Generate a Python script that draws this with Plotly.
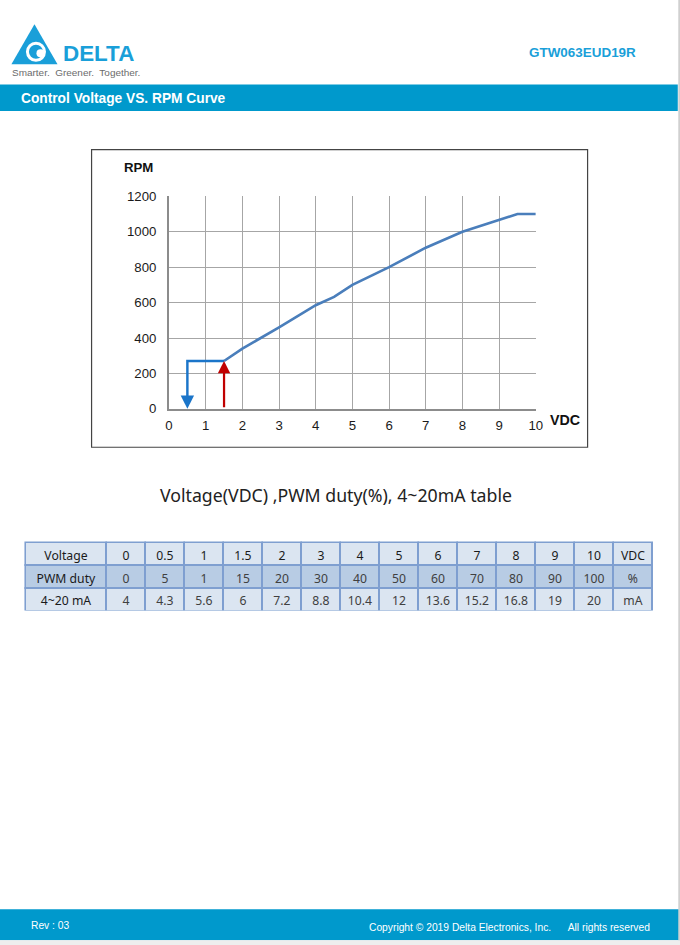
import plotly.graph_objects as go

# ---- data ----
voltage = [1.5, 2, 3, 4, 4.5, 5, 6, 7, 8, 9, 9.5, 10]
rpm = [270, 340, 460, 585, 632, 700, 800, 910, 1000, 1068, 1100, 1100]
start_v = 1.5
stop_v = 0.5
start_rpm = 270

row_labels = ["Voltage", "PWM duty", "4~20 mA"]
volt_row = ["0", "0.5", "1", "1.5", "2", "3", "4", "5", "6", "7", "8", "9", "10", "VDC"]
pwm_row = ["0", "5", "1", "15", "20", "30", "40", "50", "60", "70", "80", "90", "100", "%"]
ma_row = ["4", "4.3", "5.6", "6", "7.2", "8.8", "10.4", "12", "13.6", "15.2", "16.8", "19", "20", "mA"]

# page placement compensation (observed render offset and scale)
OX, OY, S = 4.6, 7.8, 0.982
W, H = 688, 955
BLUE = "#0099cc"


def px(x):
    return (x - OX) / S / W


def py(y):
    return 1 - (y - OY) / S / H


def fs(v):
    return v / S


fig = go.Figure()

# curve
fig.add_trace(go.Scatter(x=voltage, y=rpm, mode="lines",
                         line=dict(color="#4a7ebb", width=fs(2.6)),
                         hoverinfo="skip", showlegend=False))
# blue stop step
fig.add_trace(go.Scatter(x=[start_v, stop_v, stop_v], y=[start_rpm, start_rpm, 20], mode="lines",
                         line=dict(color="#1b75c9", width=fs(2.4)),
                         hoverinfo="skip", showlegend=False))

annotations = []
# arrows
annotations.append(dict(x=stop_v, y=0, ax=stop_v, ay=60, xref="x", yref="y", axref="x", ayref="y",
                        showarrow=True, arrowhead=2, arrowsize=1.1, arrowwidth=fs(2.4),
                        arrowcolor="#1b75c9", text=""))
annotations.append(dict(x=start_v, y=start_rpm, ax=start_v, ay=0, xref="x", yref="y", axref="x", ayref="y",
                        showarrow=True, arrowhead=2, arrowsize=1.1, arrowwidth=fs(2.2),
                        arrowcolor="#c00000", text=""))

# table
header_vals = [row_labels[0]] + volt_row
cell_vals = [[row_labels[1], row_labels[2]]] + [[p, m] for p, m in zip(pwm_row, ma_row)]
ncol = len(header_vals)
fig.add_trace(go.Table(
    domain=dict(x=[px(26), px(652)], y=[py(610), py(542)]),
    columnwidth=[81] + [39] * (ncol - 1),
    header=dict(values=header_vals, height=fs(22.5),
                fill=dict(color="#dbe5f1"),
                line=dict(color="#7f9fd0", width=2),
                align="center",
                font=dict(family="Noto Sans", size=fs(12), color="#1a1a1a")),
    cells=dict(values=cell_vals, height=fs(22.5),
               fill=dict(color=[["#b8cce4", "#dbe5f1"]] * ncol),
               line=dict(color="#7f9fd0", width=2),
               align="center",
               font=dict(family="Noto Sans", size=fs(12),
                         color=[["#1a1a1a", "#1a1a1a"]] + [["#404040", "#404040"]] * (ncol - 1))),
))

shapes = []
# header title bar
shapes.append(dict(type="rect", xref="paper", yref="paper", x0=px(-5), x1=px(677), y0=py(111.5), y1=py(85),
                   fillcolor=BLUE, line=dict(width=0), layer="below"))
# footer bar
shapes.append(dict(type="rect", xref="paper", yref="paper", x0=px(-5), x1=px(679), y0=py(939), y1=py(908),
                   fillcolor=BLUE, line=dict(width=0), layer="below"))
shapes.append(dict(type="rect", xref="paper", yref="paper", x0=px(-5), x1=px(690), y0=py(950), y1=py(939),
                   fillcolor="#eeeeee", line=dict(width=0), layer="below"))
# right edge line
shapes.append(dict(type="rect", xref="paper", yref="paper", x0=px(677.5), x1=px(690), y0=py(939), y1=py(0),
                   fillcolor="#d0d0d0", line=dict(width=0), layer="below"))
# chart outer box
shapes.append(dict(type="rect", xref="paper", yref="paper", x0=px(92), x1=px(587), y0=py(447), y1=py(150),
                   line=dict(color="#444444", width=1.2), fillcolor="rgba(0,0,0,0)"))
# logo triangle
shapes.append(dict(type="path", xref="paper", yref="paper",
                   path=f"M {px(12)} {py(65)} L {px(35)} {py(25)} L {px(58)} {py(65)} Z",
                   fillcolor="#1a9fd9", line=dict(width=0)))
shapes.append(dict(type="circle", xref="paper", yref="paper",
                   x0=px(28), x1=px(45), y0=py(61), y1=py(44),
                   line=dict(color="white", width=3), fillcolor="rgba(0,0,0,0)"))
shapes.append(dict(type="circle", xref="paper", yref="paper",
                   x0=px(37), x1=px(45), y0=py(58), y1=py(50),
                   line=dict(width=0), fillcolor="white"))

# texts
annotations += [
    dict(text="<b>DELTA</b>", x=px(61), y=py(54), xref="paper", yref="paper", xanchor="left", yanchor="middle",
         showarrow=False, font=dict(family="Liberation Sans", size=fs(22), color="#1a9fd9")),
    dict(text="Smarter.  Greener.  Together.", x=px(11), y=py(73.5), xref="paper", yref="paper",
         xanchor="left", yanchor="middle", showarrow=False,
         font=dict(family="Liberation Sans", size=fs(9.8), color="#6b6b6b")),
    dict(text="<b>GTW063EUD19R</b>", x=px(637), y=py(53), xref="paper", yref="paper", xanchor="right",
         yanchor="middle", showarrow=False, font=dict(family="Liberation Sans", size=fs(13.2), color="#1a9fd9")),
    dict(text="<b>Control Voltage VS. RPM Curve</b>", x=px(20), y=py(99), xref="paper", yref="paper",
         xanchor="left", yanchor="middle", showarrow=False,
         font=dict(family="Liberation Sans", size=fs(13.5), color="white")),
    dict(text="<b>RPM</b>", x=px(139), y=py(168), xref="paper", yref="paper", xanchor="center",
         yanchor="middle", showarrow=False, font=dict(family="Liberation Sans", size=fs(13), color="#111111")),
    dict(text="<b>VDC</b>", x=px(547), y=py(420), xref="paper", yref="paper", xanchor="left",
         yanchor="middle", showarrow=False, font=dict(family="Liberation Sans", size=fs(14), color="#111111")),
    dict(text="Voltage(VDC) ,PWM duty(%), 4~20mA table", x=px(336), y=py(495), xref="paper", yref="paper",
         xanchor="center", yanchor="middle", showarrow=False,
         font=dict(family="Noto Sans", size=fs(17.4), color="#222222")),
    dict(text="Rev : 03", x=px(30), y=py(924), xref="paper", yref="paper", xanchor="left",
         yanchor="middle", showarrow=False, font=dict(family="Liberation Sans", size=fs(10.1), color="white")),
    dict(text="Copyright © 2019 Delta Electronics, Inc.      All rights reserved", x=px(651), y=py(926),
         xref="paper", yref="paper", xanchor="right", yanchor="middle", showarrow=False,
         font=dict(family="Liberation Sans", size=fs(10.1), color="white")),
]

fig.update_layout(
    width=W, height=H, margin=dict(l=0, r=0, t=0, b=0),
    paper_bgcolor="white", plot_bgcolor="white",
    shapes=shapes, annotations=annotations,
    xaxis=dict(domain=[px(169.3), px(535.3)], range=[0, 10], dtick=1, tick0=0,
               showgrid=True, gridcolor="#a6a6a6", gridwidth=1, zeroline=False,
               showline=True, linecolor="#8c8c8c", linewidth=2, ticks="",
               ticklabelstandoff=3,
               tickfont=dict(family="Liberation Sans", size=fs(13), color="#1a1a1a")),
    yaxis=dict(domain=[py(408.7), py(196.7)], range=[0, 1200], dtick=200, tick0=0,
               showgrid=True, gridcolor="#a6a6a6", gridwidth=1, zeroline=False,
               showline=True, linecolor="#8c8c8c", linewidth=2, ticks="",
               ticklabelstandoff=8,
               tickfont=dict(family="Liberation Sans", size=fs(13), color="#1a1a1a")),
)

fig.write_html("out.html")
